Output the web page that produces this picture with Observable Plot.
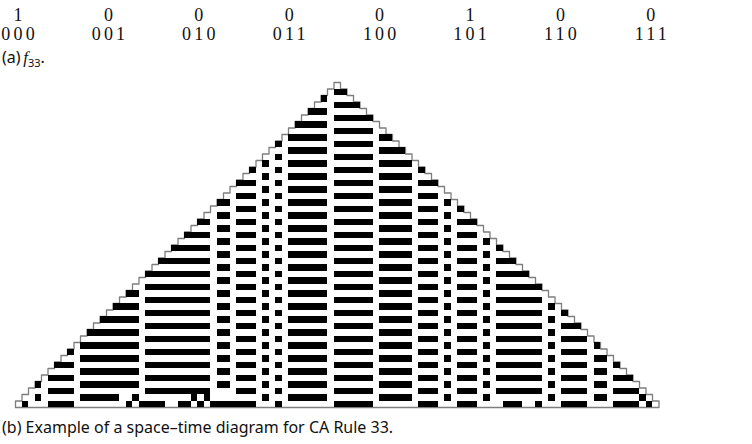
<!DOCTYPE html>
<html><head><meta charset="utf-8">
<script src="https://cdn.jsdelivr.net/npm/d3@7"></script>
<script src="https://cdn.jsdelivr.net/npm/@observablehq/plot@0.6"></script>
<style>
html,body{margin:0;padding:0;background:#fff;}
body{width:752px;height:444px;overflow:hidden;position:relative;}
#chart{position:absolute;left:0;top:0;}
.tx{position:absolute;white-space:nowrap;color:#111;}
.rule{font-family:"Liberation Serif",serif;font-size:18px;letter-spacing:3.2px;width:80px;text-align:center;}
.cap{font-family:"Noto Sans",sans-serif;font-size:16px;}
</style></head><body>
<div id="chart"></div>
<script>
// Rule table (panel a)
const neighborhoods = ["000","001","010","011","100","101","110","111"];
const ruleOutputs = [1,0,0,0,0,1,0,0];

// Space-time diagram (panel b): 50 time steps, 99 cells wide at the bottom
const nRows = 50;
const nCols = 99;
// Settled column regions: first cell, last cell, phase
// phase 1 = black on odd rows (counted from the apex), 0 = black on even rows
const regionStart = [0, 5, 10, 20, 31, 34, 38, 40, 42, 49, 56, 62, 66, 68, 72, 74, 82, 84, 89, 92, 97];
const regionEnd   = [3, 8, 18, 29, 32, 36, 38, 40, 47, 54, 60, 64, 66, 70, 72, 80, 82, 87, 90, 95, 98];
const regionPhase = [0, 1, 0, 1, 0, 1, 0, 1, 0, 1, 0, 1, 0, 1, 0, 1, 0, 1, 0, 1, 0];
// The two bottom (irregular) rows, black cells
const row48Black = [3, 10, 11, 12, 13, 14, 15, 18, 27, 29, 38, 42, 43, 44, 45, 46, 47, 56, 57, 58, 59, 60, 66, 72, 82, 89, 90, 96];
const row49Black = [1, 5, 6, 7, 8, 17, 19, 20, 21, 22, 25, 26, 28, 30, 31, 32, 33, 34, 35, 36, 40, 49, 50, 51, 52, 53, 54,
                    62, 63, 64, 68, 69, 70, 75, 76, 77, 80, 84, 85, 86, 87, 92, 93, 94, 95, 97];

const center = (nCols - 1) / 2;
const phaseOf = new Array(nCols).fill(-1);
regionStart.forEach((s, i) => { for (let k = s; k <= regionEnd[i]; k++) phaseOf[k] = regionPhase[i]; });
const explicitRows = {48: new Set(row48Black), 49: new Set(row49Black)};

const cells = [];
for (let t = 0; t < nRows; t++) {
  for (let k = center - t; k <= center + t; k++) {
    const black = explicitRows[t] ? explicitRows[t].has(k) : phaseOf[k] === t % 2;
    if (black) cells.push({k, t});
  }
}
// staircase outline of the light cone
const outline = [[0, nRows]];
for (let t = nRows - 1; t >= 0; t--) { outline.push([center - t, t + 1]); outline.push([center - t, t]); }
for (let t = 0; t < nRows; t++) { outline.push([center + 1 + t, t]); outline.push([center + 1 + t, t + 1]); }
outline.push([0, nRows]);

const plot = Plot.plot({
  width: 752, height: 444,
  marginTop: 0, marginRight: 0, marginBottom: 0, marginLeft: 0,
  x: {type: "linear", domain: [0, nCols], range: [15, 658.5], axis: null},
  y: {type: "linear", domain: [0, nRows], range: [82, 407], axis: null},
  style: {background: "transparent"},
  marks: [
    Plot.line(outline, {x: d => d[0], y: d => d[1], stroke: "#7d7d7d", strokeWidth: 1.3, curve: "linear"}),
    Plot.rect(cells, {x1: "k", x2: d => d.k + 1, y1: "t", y2: d => d.t + 1, fill: "#000", shapeRendering: "crispEdges"})
  ]
});
document.getElementById("chart").appendChild(plot);

// texts
const body = document.body;
function addText(cls, txt, left, top, html) {
  const d = document.createElement("div");
  d.className = "tx " + cls;
  if (html) d.innerHTML = txt; else d.textContent = txt;
  d.style.left = left + "px"; d.style.top = top + "px";
  body.appendChild(d);
}
neighborhoods.forEach((nb, i) => {
  const cx = 18 + 90.4 * i;
  addText("rule", String(ruleOutputs[i]), cx - 40 + 1.6, 5);
  addText("rule", nb, cx - 40 + 1.6, 24);
});
addText("cap", '(a)\u2009<i style="font-family:\'Liberation Serif\',serif;font-size:17px">f</i><sub style="font-size:11px">33</sub>.', 2, 46, true);
addText("cap", "(b) Example of a space\u2013time diagram for CA Rule 33.", 2, 416);
</script>
</body></html>
